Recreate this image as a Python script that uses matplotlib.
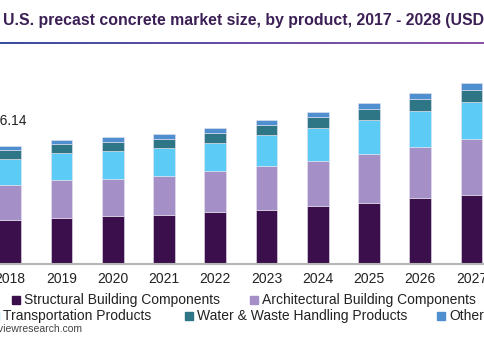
import matplotlib
matplotlib.use("Agg")
import matplotlib.pyplot as plt
from matplotlib.patches import Rectangle
from matplotlib.colors import LinearSegmentedColormap
import numpy as np

years = [2017, 2018, 2019, 2020, 2021, 2022, 2023, 2024, 2025, 2026, 2027, 2028]
structural = [5.75, 6.01, 6.33, 6.52, 6.65, 7.11, 7.39, 7.97, 8.38, 8.99, 9.44, 10.00]
architectural = [4.58, 4.79, 5.12, 5.06, 5.43, 5.55, 5.96, 6.11, 6.62, 6.98, 7.62, 8.10]
transportation = [3.42, 3.56, 3.69, 3.87, 3.79, 3.93, 4.29, 4.51, 4.69, 5.01, 5.10, 5.45]
water = [1.18, 1.23, 1.27, 1.27, 1.27, 1.33, 1.31, 1.46, 1.55, 1.56, 1.64, 1.71]
other = [0.53, 0.55, 0.55, 0.60, 0.70, 0.72, 0.78, 0.77, 0.82, 0.82, 1.00, 1.03]
series_names = ["Structural Building Components", "Architectural Building Components",
                "Transportation Products", "Water & Waste Handling Products", "Others"]
colors = ["#3a0f4b", "#a58fc7", "#5ccbf5", "#2e7585", "#4f8fcf"]
label_year = 2018
label_text = "16.14"
title = "U.S. precast concrete market size, by product, 2017 - 2028 (USD Billion)"

W, H = 485, 343
plt.rcParams['font.family'] = ['Liberation Sans', 'DejaVu Sans']
fig = plt.figure(figsize=(W / 100, H / 100), dpi=100)

def fx(px):
    return px / W

def fy(py):
    return 1 - py / H

# axes geometry in pixels
base_px = 264
top_px = 60
ax = fig.add_axes([0, fy(base_px), 1, (base_px - top_px) / H])
spacing = 51.25
scale = 16.14 / 118.0

series = [structural, architectural, transportation, water, other]
bottom = np.zeros(len(years))
for vals, c in zip(series, colors):
    ax.bar(years, vals, bottom=bottom, width=21.7 / spacing, color=c,
           edgecolor="#e8e4ee", linewidth=0.4)
    bottom += np.array(vals)

idx = years.index(label_year)
ax.annotate(label_text, (label_year, bottom[idx]), xytext=(-1, 13), textcoords="offset points",
            ha="center", va="bottom", fontsize=10, color="#222222")

for s in ["top", "right", "left"]:
    ax.spines[s].set_visible(False)
ax.spines["bottom"].set_color("#b5b5b5")
ax.spines["bottom"].set_linewidth(1.5)
ax.set_yticks([])
ax.set_xticks(years)
ax.set_xticklabels([str(y) for y in years], fontsize=10, color="#222222")
ax.tick_params(axis="x", length=0, pad=6)

x0 = 2018 - 10.2 / spacing
ax.set_xlim(x0, x0 + W / spacing)
ax.set_ylim(0, (base_px - top_px) * scale)

# title
fig.text(fx(3), fy(20), title, ha="left", va="center", fontsize=11.4, fontweight="bold",
         color="#3b1f55")

# gradient line under title
gax = fig.add_axes([0, fy(44), 1, 2 / H])
grad = np.linspace(0, 1, 256).reshape(1, -1)
cmap = LinearSegmentedColormap.from_list("g", ["#3a4e9e", "#6a4fa5", "#8a55a8"])
gax.imshow(grad, aspect="auto", cmap=cmap)
gax.axis("off")

# legend (manual, flowed rows)
leg_rows = [
    [(0, 12, 300), (1, 250, 300)],
    [(2, -9, 316), (3, 185, 316), (4, 437, 316)],
]
for row in leg_rows:
    for i, sx, sy in row:
        fig.patches.append(Rectangle((fx(sx), fy(sy + 4)), 8 / W, 8 / H,
                                     transform=fig.transFigure, color=colors[i]))
        fig.text(fx(sx + 12), fy(sy), series_names[i], ha="left", va="center",
                 fontsize=10, color="#222222")

# source
fig.text(fx(82), fy(329), "Source: www.grandviewresearch.com", ha="right", va="center",
         fontsize=7.5, color="#444444")

fig.savefig("out.png", dpi=100)
